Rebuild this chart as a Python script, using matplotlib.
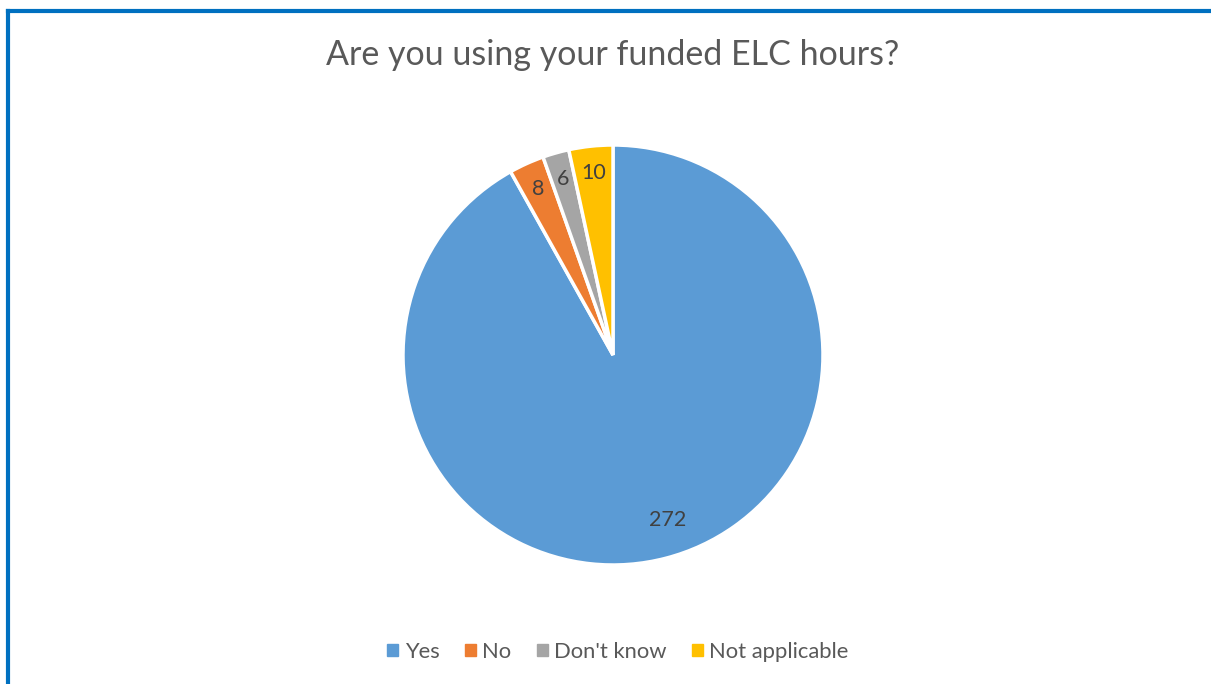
import matplotlib
matplotlib.use("Agg")
import matplotlib.pyplot as plt
from matplotlib.lines import Line2D

categories = ["Yes", "No", "Don't know", "Not applicable"]
counts = [272, 8, 6, 10]
colors = ["#5B9BD5", "#ED7D31", "#A5A5A5", "#FFC000"]
title = "Are you using your funded ELC hours?"

plt.rcParams["font.family"] = ["Lato", "DejaVu Sans"]

W, H = 1211, 684
fig = plt.figure(figsize=(W / 100, H / 100), dpi=100)

# blue frame on the top and left edges
fig.add_artist(Line2D([8 / W, 1], [1 - 11 / H, 1 - 11 / H], color="#0070C0", lw=3, transform=fig.transFigure))
fig.add_artist(Line2D([8 / W, 8 / W], [0, 1 - 11 / H], color="#0070C0", lw=3, transform=fig.transFigure))

# pie centred at (613, 355) px, radius 210 px
ax = fig.add_axes([(613 - 210) / W, (H - 565) / H, 420 / W, 420 / H])
wedges, texts = ax.pie(counts, colors=colors, startangle=90, counterclock=False,
                       wedgeprops=dict(edgecolor="white", linewidth=2.5),
                       labels=[str(c) for c in counts], labeldistance=0.87,
                       textprops=dict(color="#404040", fontsize=15.5))
for t in texts:
    t.set_horizontalalignment("center")
    t.set_verticalalignment("center")
# Excel's best-fit spot for the big slice label sits a little right of the mid angle
texts[0].set_position((0.26, -0.785))
ax.set_xlim(-1, 1)
ax.set_ylim(-1, 1)
ax.set_aspect("equal")

fig.text(613 / W, 1 - 55 / H, title, ha="center", va="center", fontsize=24.5, color="#595959")

handles = [plt.Rectangle((0, 0), 1, 1, color=c) for c in colors]
fig.legend(handles, categories, loc="center", bbox_to_anchor=(618 / W, 1 - 652 / H), ncol=4,
           frameon=False, fontsize=15.8, labelcolor="#595959", handlelength=0.5, handleheight=0.5,
           handletextpad=0.3, columnspacing=1.15)

fig.savefig("out.png", dpi=100)
